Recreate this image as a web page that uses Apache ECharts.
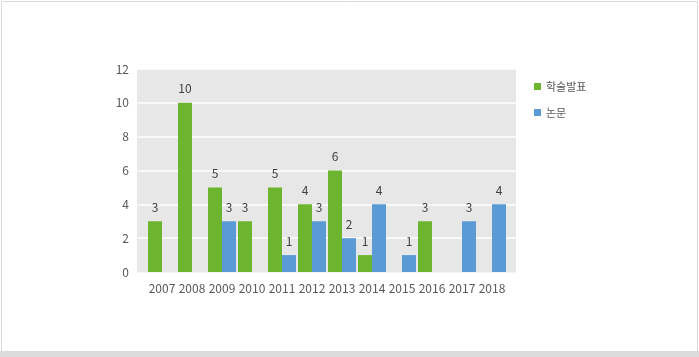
<!DOCTYPE html>
<html><head><meta charset="utf-8">
<script src="https://cdn.jsdelivr.net/npm/echarts@6/dist/echarts.min.js"></script>
<style>html,body{margin:0;padding:0;background:#fff;}#c{width:699px;height:357px;}</style>
</head><body><div id="c"></div>
<script>
const years = ['2007','2008','2009','2010','2011','2012','2013','2014','2015','2016','2017','2018'];
const presentations = [3,10,5,3,5,4,6,1,null,3,null,null];
const papers = [null,null,3,null,1,3,2,4,1,null,3,4];
const seriesNames = ['학술발표','논문'];
const yTicks = {min:0, max:12, interval:2};

const chart = echarts.init(document.getElementById('c'));
const font = "'Noto Sans CJK KR','Noto Sans',sans-serif";
const lbl = {show:true, position:'top', distance:8, color:'#404040', fontSize:12, fontFamily:font};
chart.setOption({
  animation:false,
  textStyle:{fontFamily:font},
  graphic:[
    {type:'rect', shape:{x:1.5,y:1.5,width:696,height:350}, style:{fill:'none',stroke:'#d9d9d9',lineWidth:1}, z:-10},
    {type:'rect', shape:{x:0,y:351,width:699,height:6}, style:{fill:'#dcdcdc'}, z:-10}
  ],
  grid:[
    {left:137, right:183, top:69, bottom:85, show:true, backgroundColor:'#e7e7e7', borderWidth:0, z:0},
    {left:147, right:192, top:69, bottom:85}
  ],
  legend:{orient:'vertical', left:529, top:76, itemWidth:7, itemHeight:7, itemGap:15, icon:'rect',
    textStyle:{fontSize:11, color:'#595959', fontFamily:font}, data:seriesNames},
  xAxis:[
    {gridIndex:0, type:'value', min:0, max:1, show:false},
    {gridIndex:1, type:'category', data:years,
      axisLine:{show:false}, axisTick:{show:false},
      axisLabel:{interval:0, color:'#595959', fontSize:12, margin:10, fontFamily:font}}
  ],
  yAxis:[
    {gridIndex:0, type:'value', min:yTicks.min, max:yTicks.max, interval:yTicks.interval,
      axisLine:{show:false}, axisTick:{show:false},
      axisLabel:{color:'#595959', fontSize:12, margin:8, fontFamily:font},
      splitLine:{lineStyle:{color:'#ffffff', width:1.5}}},
    {gridIndex:1, type:'value', min:yTicks.min, max:yTicks.max, interval:yTicks.interval, show:false,
      splitLine:{show:false}}
  ],
  series:[
    {type:'line', xAxisIndex:0, yAxisIndex:0, data:[[0,0],[1,0]], symbol:'none', silent:true,
      lineStyle:{color:'#d4d4d4', width:1}, z:1, legendHoverLink:false},
    {name:seriesNames[0], type:'bar', xAxisIndex:1, yAxisIndex:1, data:presentations, barWidth:14, barGap:'0%',
      itemStyle:{color:'#6db52e'}, label:lbl, z:3},
    {name:seriesNames[1], type:'bar', xAxisIndex:1, yAxisIndex:1, data:papers, barWidth:14, barGap:'0%',
      itemStyle:{color:'#5b9bd5'}, label:lbl, z:3}
  ]
});
</script></body></html>
